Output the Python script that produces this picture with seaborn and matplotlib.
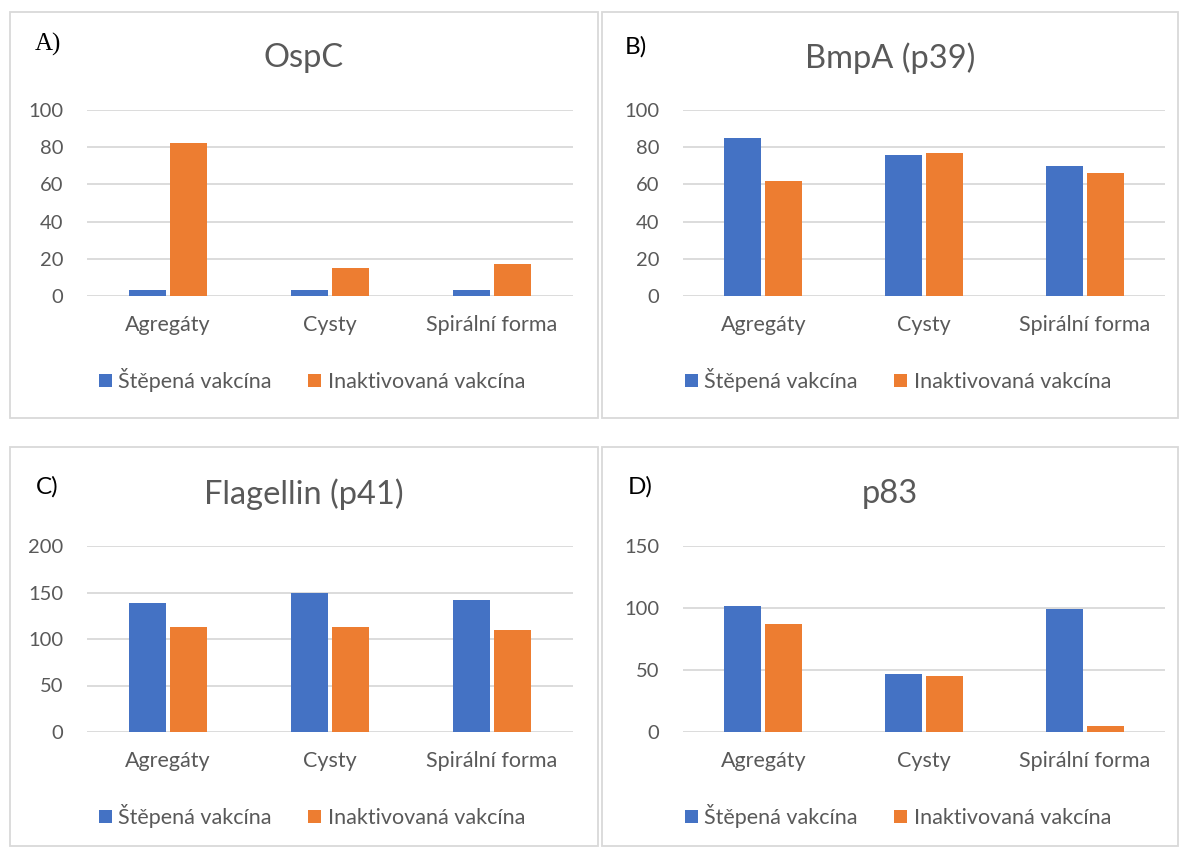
import numpy as np
import pandas as pd
import matplotlib
matplotlib.use("Agg")
import matplotlib.pyplot as plt
from matplotlib.patches import Rectangle
import seaborn as sns

# =========================================================
# DATA
# =========================================================

categories = ["Agregáty", "Cysty", "Spirální forma"]
series_names = ["Štěpená vakcína", "Inaktivovaná vakcína"]

ospc_split = [3, 3, 3]
ospc_inact = [82, 15, 17]

bmpa_split = [85, 76, 70]
bmpa_inact = [62, 77, 66]

flag_split = [139, 150, 142]
flag_inact = [113, 113, 110]

p83_split = [102, 47, 99]
p83_inact = [87, 45, 5]

titles = ["OspC", "BmpA (p39)", "Flagellin (p41)", "p83"]
panel_tags = ["A)", "B)", "C)", "D)"]
yticks_ab = [0, 20, 40, 60, 80, 100]
yticks_c = [0, 50, 100, 150, 200]
yticks_d = [0, 50, 100, 150]

# =========================================================
# STYLE
# =========================================================

sns.set_theme(style="white")
plt.rcParams["font.family"] = ["Lato", "DejaVu Sans"]

BLUE = "#4472C4"
ORANGE = "#ED7D31"
GRID = "#D9D9D9"
TXT = "#595959"

W, H = 1179, 847
fig = plt.figure(figsize=(W / 100, H / 100), dpi=100)
fig.patch.set_facecolor("white")


def fx(px):
    return px / W


def fy(py):
    return 1 - py / H


# chart-area boxes (pixel coords: left, top, right, bottom)
boxes = [(10, 12, 598, 418), (602, 12, 1178, 418),
         (10, 447, 598, 846), (602, 447, 1178, 846)]
for l, t, r, b in boxes:
    fig.patches.append(Rectangle((fx(l), fy(b)), fx(r - l), (b - t) / H,
                                 transform=fig.transFigure, fill=False,
                                 edgecolor=GRID, lw=1.3))

# plot-area positions (pixel coords: left, top, right, bottom)
plot_areas = [(87, 110, 573, 296), (683, 110, 1165, 296),
              (87, 546, 573, 732), (683, 546, 1165, 732)]

panels = [
    (ospc_split, ospc_inact, yticks_ab),
    (bmpa_split, bmpa_inact, yticks_ab),
    (flag_split, flag_inact, yticks_c),
    (p83_split, p83_inact, yticks_d),
]

for i, (split_vals, inact_vals, yt) in enumerate(panels):
    l, t, r, b = plot_areas[i]
    ax = fig.add_axes([fx(l), fy(b), fx(r - l), (b - t) / H])

    df = pd.DataFrame({
        "kategorie": categories * 2,
        "hodnota": split_vals + inact_vals,
        "vakcina": [series_names[0]] * 3 + [series_names[1]] * 3,
    })

    sns.barplot(data=df, x="kategorie", y="hodnota", hue="vakcina",
                hue_order=series_names, palette=[BLUE, ORANGE],
                width=0.51, gap=0.1, saturation=1, ax=ax, legend=True,
                edgecolor="none", linewidth=0)

    handles, labels = ax.get_legend_handles_labels()
    ax.get_legend().remove()

    ax.set_ylim(yt[0], yt[-1])
    ax.set_yticks(yt)
    ax.set_xlim(-0.5, 2.5)
    ax.set_xlabel("")
    ax.set_ylabel("")
    ax.grid(axis="y", color=GRID, lw=1.3)
    ax.set_axisbelow(True)
    for s in ax.spines.values():
        s.set_visible(False)
    ax.tick_params(axis="y", length=0, pad=17, labelsize=14.5, labelcolor=TXT)
    ax.tick_params(axis="x", length=0, pad=14, labelsize=15.5, labelcolor=TXT)
    ax.set_facecolor("none")

    # legend centred in chart area
    bl, bt, br, bb = boxes[i]
    cx = (bl + br) / 2
    leg_y = b + 84
    ax.legend(handles, labels, loc="center", ncol=2,
              bbox_to_anchor=(fx(cx + 8), fy(leg_y)), bbox_transform=fig.transFigure,
              frameon=False, fontsize=15.5, handlelength=0.6, handleheight=0.6,
              handletextpad=0.3, columnspacing=1.7, labelcolor=TXT)

    # title
    fig.text(fx(cx), fy(t - 52), titles[i], ha="center", va="center",
             fontsize=23.5, color=TXT)

# panel tags
fig.text(fx(35), fy(44), panel_tags[0], ha="left", va="center", fontsize=18,
         color="black", family=["Liberation Serif", "DejaVu Serif"])
fig.text(fx(625), fy(47), panel_tags[1], ha="left", va="center", fontsize=17.5,
         color="black")
fig.text(fx(36), fy(487), panel_tags[2], ha="left", va="center", fontsize=17.5,
         color="black")
fig.text(fx(628), fy(487), panel_tags[3], ha="left", va="center", fontsize=17.5,
         color="black")

fig.savefig("out.png", dpi=100, facecolor="white")
